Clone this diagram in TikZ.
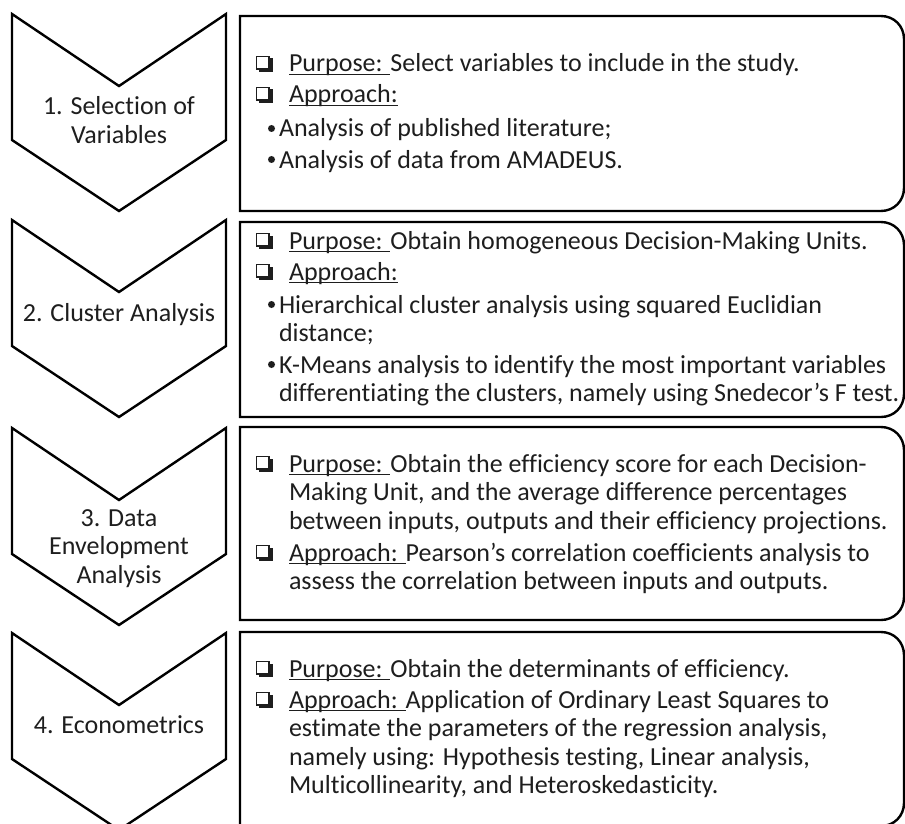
\documentclass[tikz,border=0pt]{standalone}
\usepackage{fontspec}
\setmainfont{Carlito}[Ligatures=NoCommon]
\definecolor{ink}{RGB}{30,30,30}
\newcommand\ulx[1]{\setbox0\hbox{#1}\rlap{\rule[-3pt]{\wd0}{1.3pt}}\box0}
\tikzset{
  shapeline/.style={line width=2.4pt, line join=miter},
  txt/.style={anchor=base west, inner sep=0pt, outer sep=0pt, font=\fontsize{26}{28.5}\selectfont, text=ink},
  ctxt/.style={anchor=base, inner sep=0pt, outer sep=0pt, font=\fontsize{26}{28.5}\selectfont, text=ink},
}
\newcommand\chev[1]{%
  \draw[shapeline] (12,#1) -- (119,#1+72) -- (226,#1) -- (226,#1+126) -- (119,#1+197) -- (12,#1+126) -- cycle;}
\newcommand\boxr[2]{%
  \draw[shapeline] (240,#1) -- (881,#1) .. controls (894,#1) and (904,#1+10) .. (904,#1+23) -- (904,#2-23) .. controls (904,#2-10) and (894,#2) .. (881,#2) -- (240,#2) -- cycle;}
\newcommand\cbox[1]{%
  \draw[ink, line width=1.2pt] (256.6,#1-15.4) rectangle (269,#1-3);
  \fill[ink] (258.5,#1-3.6) rectangle (272.5,#1);
  \fill[ink] (268.4,#1-13.5) rectangle (272.5,#1);}
\newcommand\bul[1]{\fill[ink] (271.5,#1-8.5) circle (3.5);}
\begin{document}
\begin{tikzpicture}[x=1pt,y=-1pt]
\useasboundingbox (0,0) rectangle (905,824);
\fill[white] (0,0) rectangle (905,824);
\clip (0,0) rectangle (905,824);
% chevrons
\chev{14}
\chev{220}
\chev{428}
\chev{633}
% boxes
\boxr{16}{211}
\boxr{222}{417}
\boxr{427}{620}
\boxr{632}{826}
% chevron labels
\node[ctxt] (c1a) at (119,115) {1. Selection of};
\node[ctxt] (c1b) at (119,143) {Variables};
\node[ctxt] (c2a) at (119,321) {2. Cluster Analysis};
\node[ctxt] (c3a) at (119,526) {3. Data};
\node[ctxt] (c3b) at (119,554.5) {Envelopment};
\node[ctxt] (c3c) at (119,583) {Analysis};
\node[ctxt] (c4a) at (119,733) {4. Econometrics};
% box 1
\cbox{72}\cbox{103}\bul{137}\bul{168}
\node[txt] (b1p) at (289,72) {\ulx{Purpose: }Select variables to include in the study.};
\node[txt] (b1a) at (289,103) {\ulx{Approach:}};
\node[txt] (b1x) at (279,137) {Analysis of published literature;};
\node[txt] (b1y) at (279,168) {Analysis of data from AMADEUS.};
% box 2
\cbox{249}\cbox{280}\bul{313}\bul{373}
\node[txt] (b2p) at (289,249) {\ulx{Purpose: }Obtain homogeneous Decision-Making Units.};
\node[txt] (b2a) at (289,280) {\ulx{Approach:}};
\node[txt] (b2x) at (279,313) {Hierarchical cluster analysis using squared Euclidian};
\node[txt] (b2x2) at (279,341.5) {distance;};
\node[txt] (b2y) at (279,373) {K-Means analysis to identify the most important variables};
\node[txt] (b2y2) at (279,401.5) {differentiating the clusters, namely using Snedecor’s F test.};
% box 3
\cbox{472}\cbox{561}
\node[txt] (b3p) at (289,472) {\ulx{Purpose: }Obtain the efficiency score for each Decision-};
\node[txt] (b3p2) at (289,500.5) {Making Unit, and the average difference percentages};
\node[txt] (b3p3) at (289,529) {between inputs, outputs and their efficiency projections.};
\node[txt] (b3a) at (289,561) {\ulx{Approach: }Pearson’s correlation coefficients analysis to};
\node[txt] (b3a2) at (289,589.5) {assess the correlation between inputs and outputs.};
% box 4
\cbox{677}\cbox{708}
\node[txt] (b4p) at (289,677) {\ulx{Purpose: }Obtain the determinants of efficiency.};
\node[txt] (b4a) at (289,708) {\ulx{Approach: }Application of Ordinary Least Squares to};
\node[txt] (b4a2) at (289,736.5) {estimate the parameters of the regression analysis,};
\node[txt] (b4a3) at (289,765) {namely using: Hypothesis testing, Linear analysis,};
\node[txt] (b4a4) at (289,793.5) {Multicollinearity, and Heteroskedasticity.};
\end{tikzpicture}
\end{document}
